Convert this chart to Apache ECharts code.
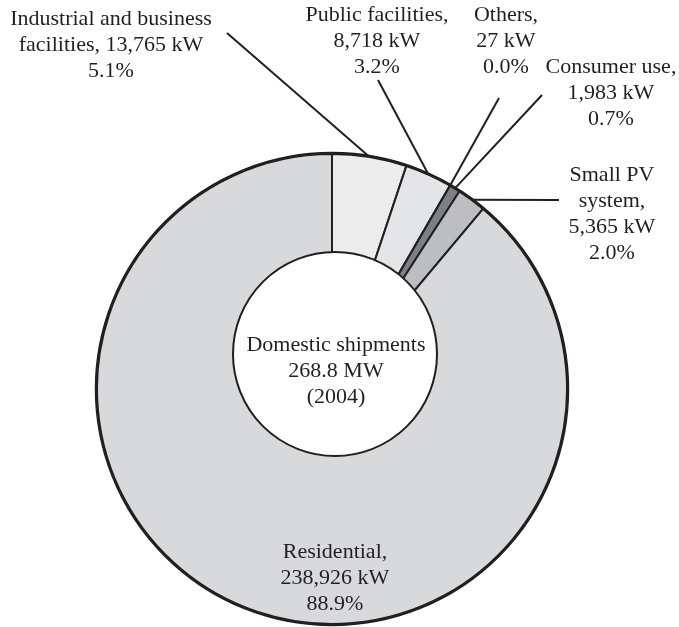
<!DOCTYPE html>
<html>
<head>
<meta charset="utf-8">
<script src="https://cdn.jsdelivr.net/npm/echarts@6/dist/echarts.min.js"></script>
<style>
html,body{margin:0;padding:0;background:#fff;}
#chart{width:679px;height:627px;}
</style>
</head>
<body>
<div id="chart"></div>
<script>
// ---- data ----
var categories = ["Industrial and business\nfacilities", "Public facilities", "Others", "Consumer use", "Small PV\nsystem", "Residential"];
var valuesKW = [13765, 8718, 27, 1983, 5365, 238926];
var nameValueSep = [" ", "\n", "\n", "\n", "\n", "\n"];
var centerLines = ["Domestic shipments", "268.8 MW", "(2004)"];

// ---- styles / layout ----
var fills = ["#ececec", "#e4e5e7", "#58595b", "#7f8083", "#bdbec1", "#d8d9db"];
var ink = "#231f20";
var labelPos = [[111, 6], [377, 2], [506, 2], [611, 54], [612, 162], [335, 539]];
var lineEnds = [[227, 33], [378, 80], [499, 98], [542, 95], [559, 200], null];

var totalKW = valuesKW.reduce(function (a, b) { return a + b; }, 0);

var chart = echarts.init(document.getElementById('chart'), null, {renderer: 'canvas'});

var data = categories.map(function (c, i) {
  var item = {
    name: c,
    value: valuesKW[i],
    itemStyle: {color: fills[i]}
  };
  if (i === categories.length - 1) {
    item.label = {position: 'inside'};
    item.labelLine = {show: false};
  }
  return item;
});

function fmtNum(v) {
  return String(v).replace(/\B(?=(\d{3})+(?!\d))/g, ',');
}

var option = {
  animation: false,
  series: [{
    type: 'pie',
    center: [332, 389],
    radius: [0, 235],
    startAngle: 90,
    clockwise: true,
    avoidLabelOverlap: false,
    itemStyle: {borderColor: ink, borderWidth: 2},
    emphasis: {disabled: true},
    label: {
      show: true,
      position: 'outside',
      fontFamily: 'Liberation Serif',
      fontSize: 22,
      lineHeight: 26,
      color: ink,
      align: 'center',
      formatter: function (p) {
        var pct = (p.value / totalKW * 100).toFixed(1);
        return p.name + ',' + nameValueSep[p.dataIndex] + fmtNum(p.value) + ' kW\n' + pct + '%';
      }
    },
    labelLine: {show: true, length: 10, length2: 10, lineStyle: {color: ink, width: 2}},
    labelLayout: function (params) {
      var i = params.dataIndex;
      var res = {x: labelPos[i][0], y: labelPos[i][1], align: 'center', verticalAlign: 'top'};
      if (lineEnds[i] && params.labelLinePoints) {
        var p0 = params.labelLinePoints[0];
        res.labelLinePoints = [[p0[0], p0[1]], lineEnds[i]];
      }
      return res;
    },
    data: data
  }],
  graphic: [{
    type: 'circle',
    z: 100,
    shape: {cx: 332, cy: 389, r: 236},
    style: {fill: 'none', stroke: ink, lineWidth: 2.5}
  }, {
    type: 'circle',
    z: 100,
    shape: {cx: 335, cy: 354, r: 102},
    style: {fill: '#ffffff', stroke: ink, lineWidth: 2}
  }, {
    type: 'text',
    z: 101,
    x: 336,
    y: 332,
    style: {
      text: centerLines.join('\n'),
      fill: ink,
      font: '22px "Liberation Serif"',
      lineHeight: 26,
      align: 'center',
      verticalAlign: 'top'
    }
  }]
};
chart.setOption(option);
</script>
</body>
</html>
